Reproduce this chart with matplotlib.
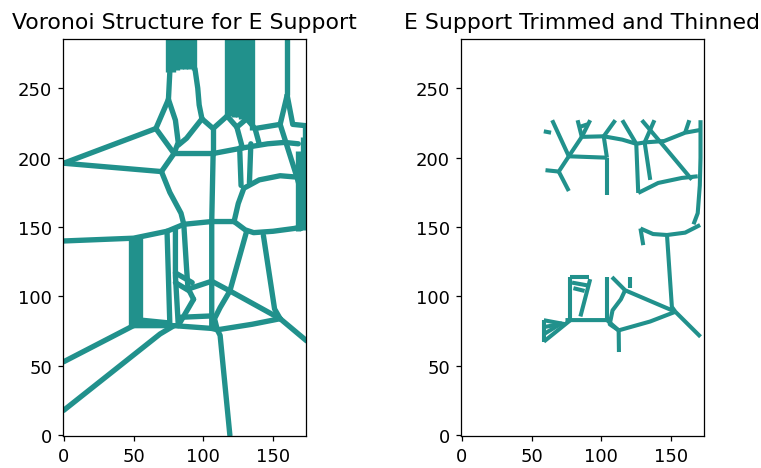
import matplotlib
matplotlib.use('Agg')
from matplotlib import pyplot as plt

color = '#21918c'
width, height = 174, 286

# ---- left panel: full voronoi edges (x, y in image pixels) ----
left_edges = [
    [(0, 196), (66, 221)],
    [(0, 196), (70, 190)],
    [(66, 221), (75, 242)],
    [(66, 221), (79, 203)],
    [(79, 203), (70, 190)],
    [(75, 242), (80, 227), (82, 211), (79, 203)],
    [(75, 242), (76, 262)],
    [(94, 264), (96, 250), (97, 238), (99, 228)],
    [(99, 228), (88, 214), (82, 209)],
    [(99, 228), (107, 221), (117, 230)],
    [(107, 221), (107, 203)],
    [(79, 203), (107, 203), (128, 207), (146, 210), (158, 211), (168, 210)],
    [(117, 230), (124, 222), (131, 228)],
    [(124, 222), (128, 207)],
    [(131, 228), (137, 221), (155, 224)],
    [(160, 245), (155, 224), (167, 186)],
    [(160, 245), (164, 224), (174, 223)],
    [(137, 221), (140, 210)],
    [(126, 207), (127, 180)],
    [(134, 210), (133, 182)],
    [(122, 154), (125, 167), (129, 178), (140, 184), (155, 187), (167, 186),
     (170, 175), (171, 160), (170, 149)],
    [(122, 154), (130, 148), (136, 146), (150, 147), (165, 149), (174, 151)],
    [(70, 190), (76, 175), (84, 160), (86, 152)],
    [(86, 152), (106, 154), (122, 154)],
    [(0, 140), (50, 142), (74, 147), (86, 152)],
    [(107, 203), (106, 154), (106, 111), (106, 77)],
    [(0, 53), (50, 79)],
    [(0, 18), (69, 73), (79, 79)],
    [(50, 79), (79, 79), (106, 77), (110, 76)],
    [(55, 83), (75, 81)],
    [(74, 147), (76, 80)],
    [(86, 152), (88, 120), (89, 106), (93, 98)],
    [(80, 148), (80, 115), (82, 80)],
    [(93, 98), (82, 79)],
    [(83, 85), (106, 86)],
    [(80, 117), (92, 110)],
    [(80, 110), (90, 104)],
    [(91, 106), (106, 111), (119, 104), (155, 84)],
    [(131, 147), (119, 104), (112, 92), (108, 84), (110, 76)],
    [(143, 144), (151, 91), (155, 84)],
    [(155, 84), (174, 68)],
    [(155, 84), (135, 80), (110, 76)],
    [(110, 76), (112, 72), (119, 0)],
]

# bundles of near-vertical edges running off the top / right
band_x = [75, 78, 81, 84, 87, 90, 93, 117, 119.5, 122, 124.5, 127, 129.5, 131, 135, 160]
band_y0 = [262, 262, 263, 264, 264, 264, 263, 230, 230, 229, 229, 228, 228, 228, 220, 245]
band_y1 = [286] * 16
side_x = [48.5, 51.5, 54.5, 168, 171, 173]
side_y0 = [79, 79, 80, 147, 148, 150]
side_y1 = [142, 142, 142, 205, 215, 222]

# ---- right panel: trimmed and thinned edges ----
right_edges = [
    [(58.8, 219), (64, 218)],
    [(64.8, 227), (76.7, 201)],
    [(76.7, 201), (69.5, 190), (60, 191)],
    [(69.5, 190), (76.7, 176)],
    [(76.7, 201), (104, 200)],
    [(104, 200), (104, 173)],
    [(76.7, 201), (86, 215), (101.7, 215.4), (104, 200)],
    [(86, 215), (83, 227)],
    [(86, 215), (92, 227)],
    [(84, 222), (90, 224)],
    [(101.7, 215.4), (110, 227)],
    [(101.7, 215.4), (115, 213), (125, 210)],
    [(115, 227), (125, 210)],
    [(125, 210), (126.4, 174.6)],
    [(131, 211), (135, 184)],
    [(126.4, 174.6), (140.7, 181.8), (157.6, 185.4), (169, 186.6)],
    [(125, 210), (131, 211), (145, 212), (160, 218), (171, 220)],
    [(131, 211), (138, 227)],
    [(160, 218), (163, 227)],
    [(129, 227), (145, 208), (164.8, 184.2)],
    [(171, 227), (171, 200), (170.5, 180), (169, 160), (166, 152)],
    [(128, 149), (137, 145), (147, 144.3), (160, 146), (170.7, 151.5)],
    [(128, 149), (130, 137)],
    [(147, 144.3), (150.5, 92.5), (153, 89)],
    [(153, 89), (171, 71)],
    [(107.6, 114), (117, 104.5), (153, 89)],
    [(153, 89), (135, 82), (112.4, 75.6)],
    [(112.4, 75.6), (112.6, 60)],
    [(112.4, 75.6), (106, 80), (108, 90), (114, 98), (117, 104.5)],
    [(120.5, 114), (120.5, 106)],
    [(104, 114), (104, 83)],
    [(74.3, 83), (104, 83), (112.4, 75.6)],
    [(77.9, 114), (77.9, 83)],
    [(92, 112.5), (85, 85.6)],
    [(77.9, 114), (91, 114)],
    [(79, 110), (90, 108)],
    [(80, 106), (88, 104)],
    [(58.8, 82.9), (58.8, 67.5)],
    [(58.8, 82.9), (74.3, 80)],
    [(58.8, 67.5), (77.9, 83)],
    [(59, 78), (70, 80)],
    [(59, 73), (72, 81)],
]

plt.rcParams['xtick.labelsize'] = 11.5
plt.rcParams['ytick.labelsize'] = 11.5

fig = plt.figure(figsize=(761 / 113, 469 / 113), dpi=113)
ax1 = fig.add_axes([63 / 761, 32 / 469, 243 / 761, 397 / 469])
ax2 = fig.add_axes([461 / 761, 32 / 469, 243 / 761, 397 / 469])

for e in left_edges:
    xs, ys = zip(*e)
    ax1.plot(xs, ys, color=color, lw=3.4, solid_capstyle='round', solid_joinstyle='round')
for x, y0, y1 in zip(band_x, band_y0, band_y1):
    ax1.plot([x, x], [y0, y1], color=color, lw=3.4, solid_capstyle='butt')
for x, y0, y1 in zip(side_x, side_y0, side_y1):
    ax1.plot([x, x], [y0, y1], color=color, lw=3.4, solid_capstyle='butt')

for e in right_edges:
    xs, ys = zip(*e)
    ax2.plot(xs, ys, color=color, lw=2.6, solid_capstyle='butt', solid_joinstyle='round')

for ax in (ax1, ax2):
    ax.set_xlim(-0.5, width - 0.5)
    ax.set_ylim(-0.5, height - 0.5)
    ax.set_xticks([0, 50, 100, 150])
    ax.set_yticks([0, 50, 100, 150, 200, 250])

ax1.set_title('Voronoi Structure for E Support', fontsize=14, pad=7)
ax2.set_title('E Support Trimmed and Thinned', fontsize=14, pad=7)

plt.savefig('out.png', dpi=113)
